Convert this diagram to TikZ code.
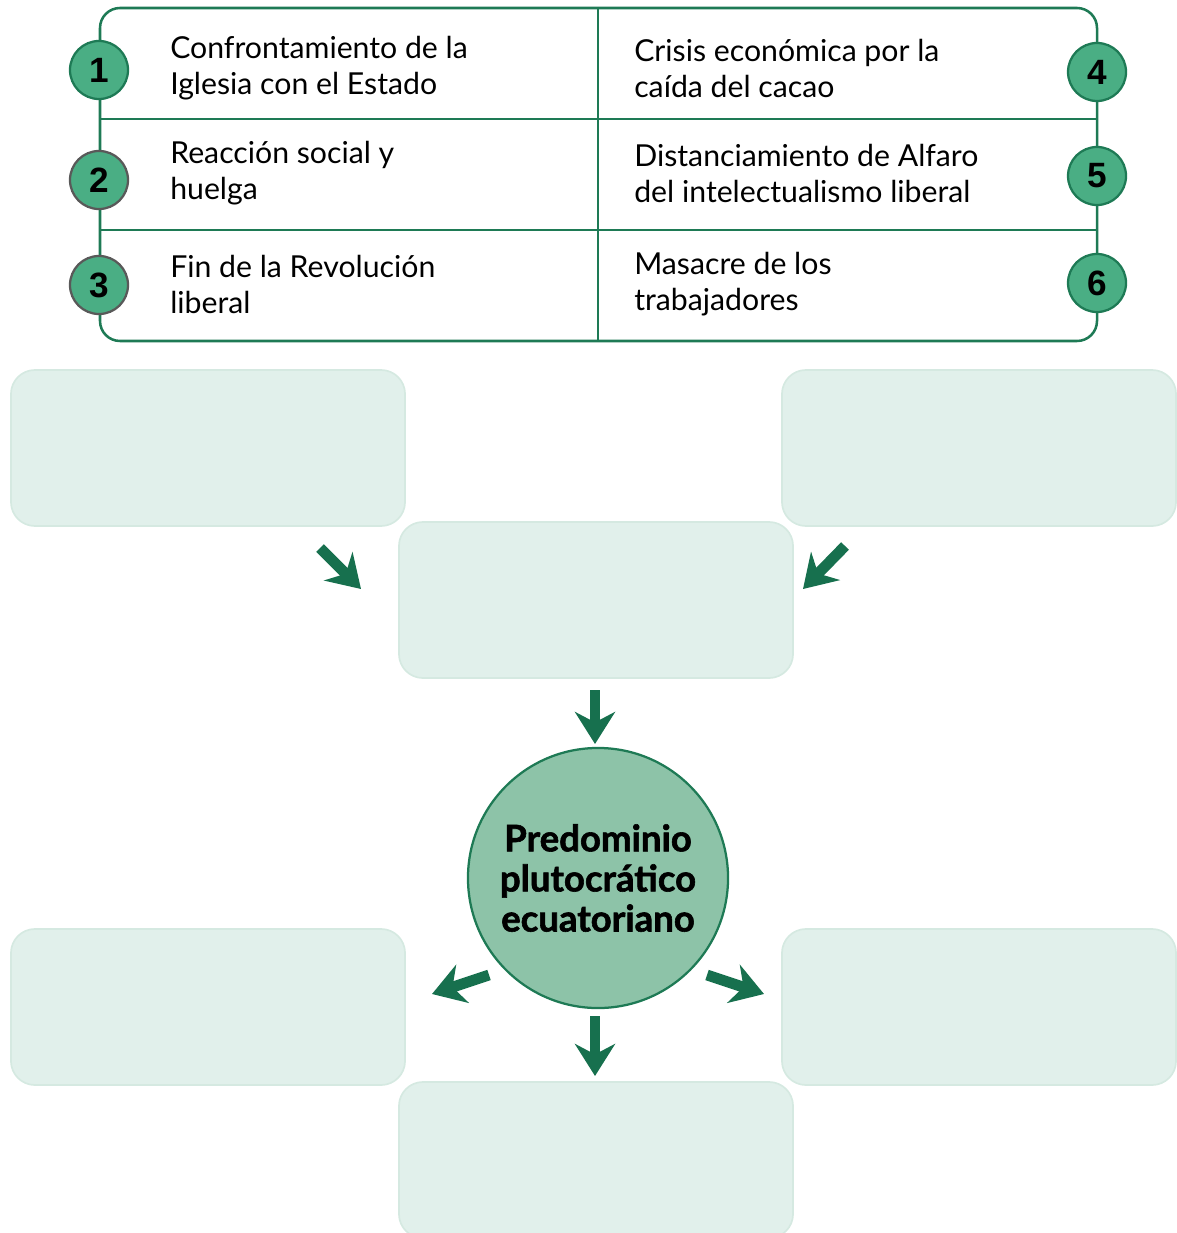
\documentclass[tikz,border=0pt]{standalone}
\usepackage{fontspec}
\setmainfont{Lato}
\newfontfamily\numfont{Liberation Sans}
\newfontfamily\heavyfont{Lato}[BoldFeatures={FakeBold=1.6}]
\usetikzlibrary{arrows.meta,positioning}

\definecolor{linegreen}{HTML}{1E7A55}
\definecolor{numfill}{HTML}{4AAE84}
\definecolor{arrowgreen}{HTML}{17704E}
\definecolor{boxfill}{HTML}{E1F0EB}
\definecolor{boxline}{HTML}{D5E9E1}
\definecolor{hubfill}{HTML}{8DC3A8}

\begin{document}
\begin{tikzpicture}[
  x=0.025cm,y=-0.025cm,
  frame/.style={draw=linegreen,line width=1.8pt},
  numdot/.style={circle,draw=linegreen,fill=numfill,line width=1.6pt,
    minimum size=1.45cm,inner sep=0pt,font=\numfont\fontsize{25}{25}\selectfont\bfseries},
  greydot/.style={numdot,draw=black!65},
  item/.style={anchor=west,align=left,inner sep=0pt,
    font=\fontsize{21.5}{25.6}\selectfont},
  blank/.style={draw=boxline,fill=boxfill,line width=1.2pt,rounded corners=0.6cm,
    minimum width=9.85cm,minimum height=3.9cm},
  hub/.style={circle,draw=linegreen,fill=hubfill,line width=1.6pt,
    minimum size=6.5cm,align=center,font=\heavyfont\fontsize{26}{28.5}\selectfont\bfseries},
  arrow/.style={-{Stealth[length=0.8cm,width=1.0cm,inset=0.26cm]},
    line width=0.27cm,draw=arrowgreen}
]
\useasboundingbox (0,0) rectangle (1176,1233);

% table of causes
\draw[frame,rounded corners=0.5cm] (100,8) rectangle (1097,341);
\draw[frame] (598,8) -- (598,341);
\draw[frame] (100,119) -- (1097,119);
\draw[frame] (100,230) -- (1097,230);

\node[item] (c1) at (170,68) {Confrontamiento de la\\Iglesia con el Estado};
\node[item] (c2) at (170,173) {Reacción social y\\huelga};
\node[item] (c3) at (170,284) {Fin de la Revolución\\liberal};
\node[item] (c4) at (634,68) {Crisis económica por la\\caída del cacao};
\node[item] (c5) at (634,173) {Distanciamiento de Alfaro\\del intelectualismo liberal};
\node[item] (c6) at (634,284) {Masacre de los\\trabajadores};

\node[numdot] (n1) at (99,70) {1};
\node[greydot] (n2) at (99,180) {2};
\node[greydot] (n3) at (99,285) {3};
\node[numdot] (n4) at (1097,72) {4};
\node[numdot] (n5) at (1097,176) {5};
\node[numdot] (n6) at (1097,283) {6};

% empty boxes
\node[blank] (topleft) at (208,448) {};
\node[blank] (topright) at (979,448) {};
\node[blank] (middle) at (596,600) {};
\node[blank] (botleft) at (208,1007) {};
\node[blank] (botright) at (979,1007) {};
\node[blank] (bottom) at (596,1160) {};

\node[hub] (hub) at (598,878) {Predominio\\plutocrático\\ecuatoriano};

% arrows
\coordinate (a1s) at (320,548); \coordinate (a1e) at (361,589);
\coordinate (a2s) at (845,546); \coordinate (a2e) at (803,589);
\coordinate (a3s) at (595,690); \coordinate (a3e) at (595,744);
\coordinate (a4s) at (489,975); \coordinate (a4e) at (432,994);
\coordinate (a5s) at (707,975); \coordinate (a5e) at (764,994);
\coordinate (a6s) at (595,1016); \coordinate (a6e) at (595,1076);
\foreach \i in {1,...,6}
  \draw[arrow] (a\i s) -- (a\i e);
\end{tikzpicture}
\end{document}
